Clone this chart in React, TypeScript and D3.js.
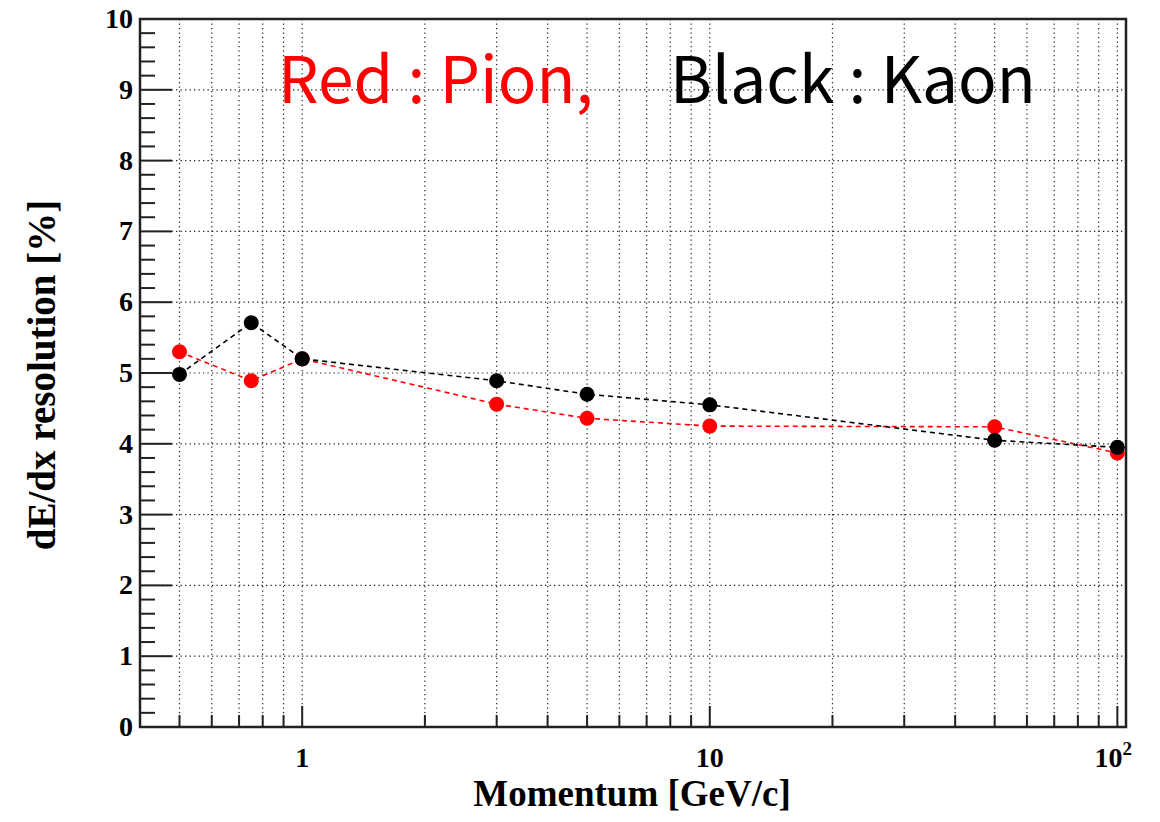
import React from 'react';
import * as d3 from 'd3';

// momentum points [GeV/c]
const momentum = [0.5, 0.75, 1, 3, 5, 10, 50, 100];
// dE/dx resolution [%]
const pionRes = [5.3, 4.89, 5.2, 4.56, 4.36, 4.25, 4.24, 3.87];
const kaonRes = [4.98, 5.71, 5.2, 4.89, 4.7, 4.55, 4.05, 3.95];

const yTicks = [0, 1, 2, 3, 4, 5, 6, 7, 8, 9, 10];
const xGrid = [0.5, 0.6, 0.7, 0.8, 0.9, 1, 2, 3, 4, 5, 6, 7, 8, 9, 10, 20, 30, 40, 50, 60, 70, 80, 90, 100];
const xMajor = [1, 10, 100];

const W = 1160;
const H = 822;
const frame = { left: 140, right: 1126, top: 19, bottom: 727 };

const App = () => {
  const x = d3.scaleLog().domain([0.4, 105]).range([frame.left, frame.right]);
  const y = d3.scaleLinear().domain([0, 10]).range([frame.bottom, frame.top]);

  const yMinor = d3.range(0, 10.001, 0.2).filter((v) => Math.abs(v - Math.round(v)) > 1e-6);

  const line = d3
    .line<number>()
    .x((_, i) => x(momentum[i]))
    .y((d) => y(d));

  const serif = '"Liberation Serif", "Times New Roman", serif';
  const sans = '"Noto Sans CJK JP", "Noto Sans", sans-serif';

  return (
    <svg
      width={W}
      height={H}
      style={{ position: 'absolute', left: 0, top: 0, background: '#fff' }}
    >
      {/* grid */}
      <g stroke="#222" strokeWidth={1.2} strokeDasharray="1.3,3.2">
        {xGrid.map((v) => (
          <line key={'gx' + v} x1={x(v)} x2={x(v)} y1={frame.top} y2={frame.bottom} />
        ))}
        {yTicks.slice(1, -1).map((v) => (
          <line key={'gy' + v} x1={frame.left} x2={frame.right} y1={y(v)} y2={y(v)} />
        ))}
      </g>

      {/* legend text */}
      <text x={278} y={103} fill="#ff0000" fontFamily={sans} fontSize={64}>
        Red : Pion,
      </text>
      <text x={670} y={103} fill="#000" fontFamily={sans} fontSize={64}>
        Black : Kaon
      </text>

      {/* frame */}
      <rect
        x={frame.left}
        y={frame.top}
        width={frame.right - frame.left}
        height={frame.bottom - frame.top}
        fill="none"
        stroke="#222"
        strokeWidth={2.5}
      />

      {/* ticks */}
      <g stroke="#222" strokeWidth={2}>
        {yTicks.map((v) => (
          <line key={'yt' + v} x1={frame.left} x2={frame.left + 32} y1={y(v)} y2={y(v)} />
        ))}
        {yMinor.map((v) => (
          <line key={'ym' + v} x1={frame.left} x2={frame.left + 15} y1={y(v)} y2={y(v)} />
        ))}
        {xGrid.map((v) => (
          <line
            key={'xt' + v}
            x1={x(v)}
            x2={x(v)}
            y1={frame.bottom}
            y2={frame.bottom - (xMajor.includes(v) ? 21 : 12)}
          />
        ))}
      </g>

      {/* y tick labels */}
      <g fontFamily={serif} fontWeight="bold" fontSize={28} textAnchor="end" fill="#000">
        {yTicks.map((v) => (
          <text key={'yl' + v} x={frame.left - 7} y={y(v) + 9}>
            {v}
          </text>
        ))}
      </g>

      {/* x tick labels */}
      <g fontFamily={serif} fontWeight="bold" fontSize={28} textAnchor="middle" fill="#000">
        <text x={x(1)} y={767}>1</text>
        <text x={x(10)} y={767}>10</text>
        <text x={x(100) - 4} y={767}>
          10
          <tspan dy={-12} fontSize={19}>2</tspan>
        </text>
      </g>

      {/* axis titles */}
      <text
        x={632}
        y={806}
        textAnchor="middle"
        fontFamily={serif}
        fontWeight="bold"
        fontSize={37}
        fill="#000"
      >
        Momentum [GeV/c]
      </text>
      <text
        transform="translate(55, 375) rotate(-90)"
        textAnchor="middle"
        fontFamily={serif}
        fontWeight="bold"
        fontSize={39}
        fill="#000"
      >
        dE/dx resolution [%]
      </text>

      {/* pion */}
      <path d={line(pionRes) ?? ''} fill="none" stroke="#ff0000" strokeWidth={1.6} strokeDasharray="5,4" />
      {pionRes.map((v, i) => (
        <circle key={'p' + i} cx={x(momentum[i])} cy={y(v)} r={7.5} fill="#ff0000" />
      ))}

      {/* kaon */}
      <path d={line(kaonRes) ?? ''} fill="none" stroke="#000" strokeWidth={1.6} strokeDasharray="5,4" />
      {kaonRes.map((v, i) => (
        <circle key={'k' + i} cx={x(momentum[i])} cy={y(v)} r={7.5} fill="#000" />
      ))}
    </svg>
  );
};

export default App;
